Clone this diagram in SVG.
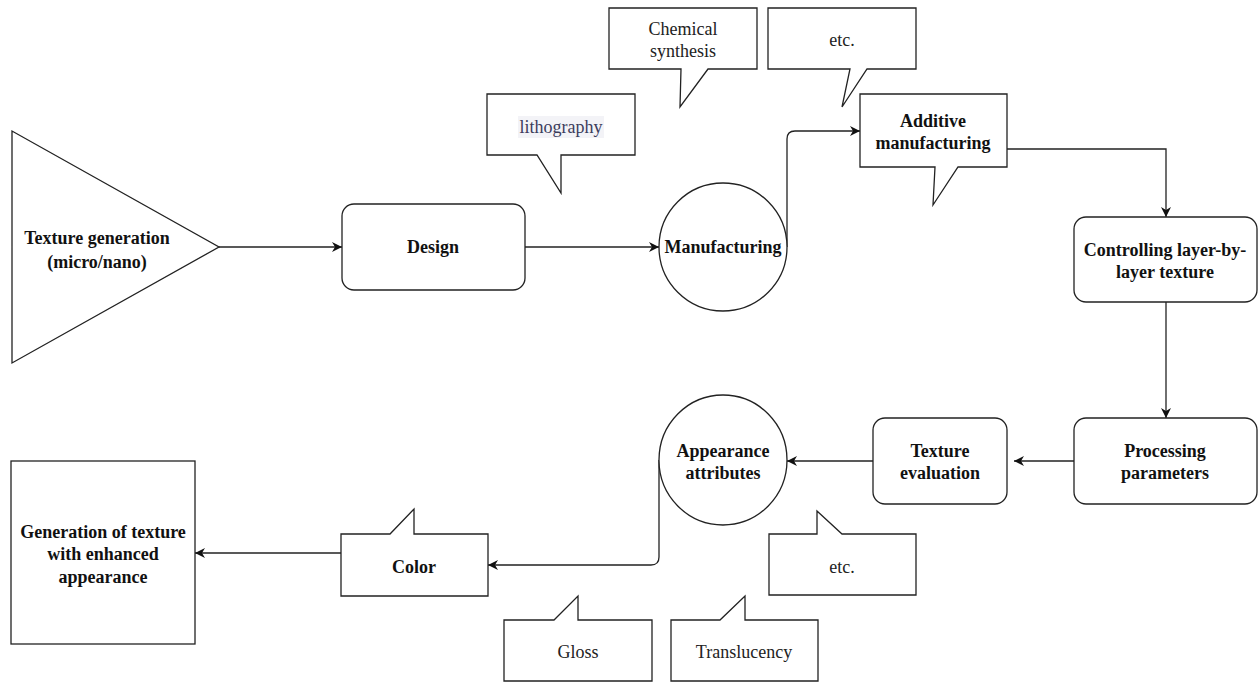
<svg xmlns="http://www.w3.org/2000/svg" width="1260" height="682" viewBox="0 0 1260 682">
<style>
.s{fill:#fff;stroke:#222;stroke-width:1.3}
.c{fill:none;stroke:#222;stroke-width:1.3}
text{font-family:'Liberation Serif','Times New Roman',Times,'DejaVu Serif',serif;font-size:18px;text-anchor:middle}
.b{font-weight:bold;fill:#111}
.r{fill:#222}
</style>
<defs>
<marker id="ah" viewBox="0 0 10 10" refX="10" refY="5" markerWidth="10" markerHeight="10" markerUnits="userSpaceOnUse" orient="auto">
<path d="M0,0 L10,5 L0,10 L3,5 z" fill="#111"/>
</marker>
</defs>
<rect width="1260" height="682" fill="#fff"/>
<g id="connectors">
<path class="c" d="M219,247 H342" marker-end="url(#ah)"/>
<path class="c" d="M525,247 H659" marker-end="url(#ah)"/>
<path class="c" d="M787,247 V139 Q787,131 795,131 H860" marker-end="url(#ah)"/>
<path class="c" d="M1007,149 H1166 V217" marker-end="url(#ah)"/>
<path class="c" d="M1166,302 V418" marker-end="url(#ah)"/>
<path class="c" d="M1074,461 H1014" marker-end="url(#ah)"/>
<path class="c" d="M873,461 H787" marker-end="url(#ah)"/>
<path class="c" d="M659,460 V557 Q659,565 651,565 H488" marker-end="url(#ah)"/>
<path class="c" d="M341,553 H195" marker-end="url(#ah)"/>
</g>
<g id="texture-generation">
<polygon class="s" points="12,131 12,363 219,247"/>
<text class="b" x="97" y="244">Texture generation</text>
<text class="b" x="97" y="268">(micro/nano)</text>
</g>
<g id="design">
<rect class="s" x="342" y="204" width="183" height="86" rx="12"/>
<text class="b" x="433" y="253">Design</text>
</g>
<g id="manufacturing">
<circle class="s" cx="723" cy="247" r="64"/>
<text class="b" x="723" y="253">Manufacturing</text>
</g>
<g id="lithography">
<path class="s" d="M487,94 H635 V155 H561 V193 L537,155 H487 Z"/>
<rect x="518" y="116" width="86" height="22" fill="#f3f3f7"/>
<text class="r" x="561" y="133" style="fill:#3d3d5c">lithography</text>
</g>
<g id="chemical-synthesis">
<path class="s" d="M609,8 H757 V69 H708 L680,107 L681,69 H609 Z"/>
<text class="r" x="683" y="35">Chemical</text>
<text class="r" x="683" y="57">synthesis</text>
</g>
<g id="etc-top">
<path class="s" d="M768,8 H916 V69 H867 L842,107 L850,69 H768 Z"/>
<text class="r" x="842" y="46">etc.</text>
</g>
<g id="additive-manufacturing">
<path class="s" d="M860,94 H1007 V167 H958 L933,205 L935,167 H860 Z"/>
<text class="b" x="933" y="127">Additive</text>
<text class="b" x="933" y="149">manufacturing</text>
</g>
<g id="controlling">
<rect class="s" x="1074" y="217" width="183" height="85" rx="12"/>
<text class="b" x="1165" y="256">Controlling layer-by-</text>
<text class="b" x="1165" y="278">layer texture</text>
</g>
<g id="processing">
<rect class="s" x="1074" y="418" width="183" height="86" rx="12"/>
<text class="b" x="1165" y="457">Processing</text>
<text class="b" x="1165" y="479">parameters</text>
</g>
<g id="texture-evaluation">
<rect class="s" x="873" y="418" width="134" height="86" rx="12"/>
<text class="b" x="940" y="457">Texture</text>
<text class="b" x="940" y="479">evaluation</text>
</g>
<g id="appearance-attributes">
<ellipse class="s" cx="723" cy="460" rx="64" ry="65"/>
<text class="b" x="723" y="457">Appearance</text>
<text class="b" x="723" y="479">attributes</text>
</g>
<g id="etc-bottom">
<path class="s" d="M769,534 H817 V511 L842,534 H916 V595 H769 Z"/>
<text class="r" x="842" y="573">etc.</text>
</g>
<g id="color">
<path class="s" d="M341,534 H390 L414,509 V534 H488 V596 H341 Z"/>
<text class="b" x="414" y="573">Color</text>
</g>
<g id="gloss">
<path class="s" d="M504,620 H554 L578,596 V620 H652 V681 H504 Z"/>
<text class="r" x="578" y="658">Gloss</text>
</g>
<g id="translucency">
<path class="s" d="M671,620 H720 L745,596 V620 H818 V681 H671 Z"/>
<text class="r" x="744" y="658">Translucency</text>
</g>
<g id="generation">
<rect class="s" x="11" y="461" width="184" height="183"/>
<text class="b" x="103" y="538">Generation of texture</text>
<text class="b" x="103" y="560">with enhanced</text>
<text class="b" x="103" y="583">appearance</text>
</g>
</svg>
